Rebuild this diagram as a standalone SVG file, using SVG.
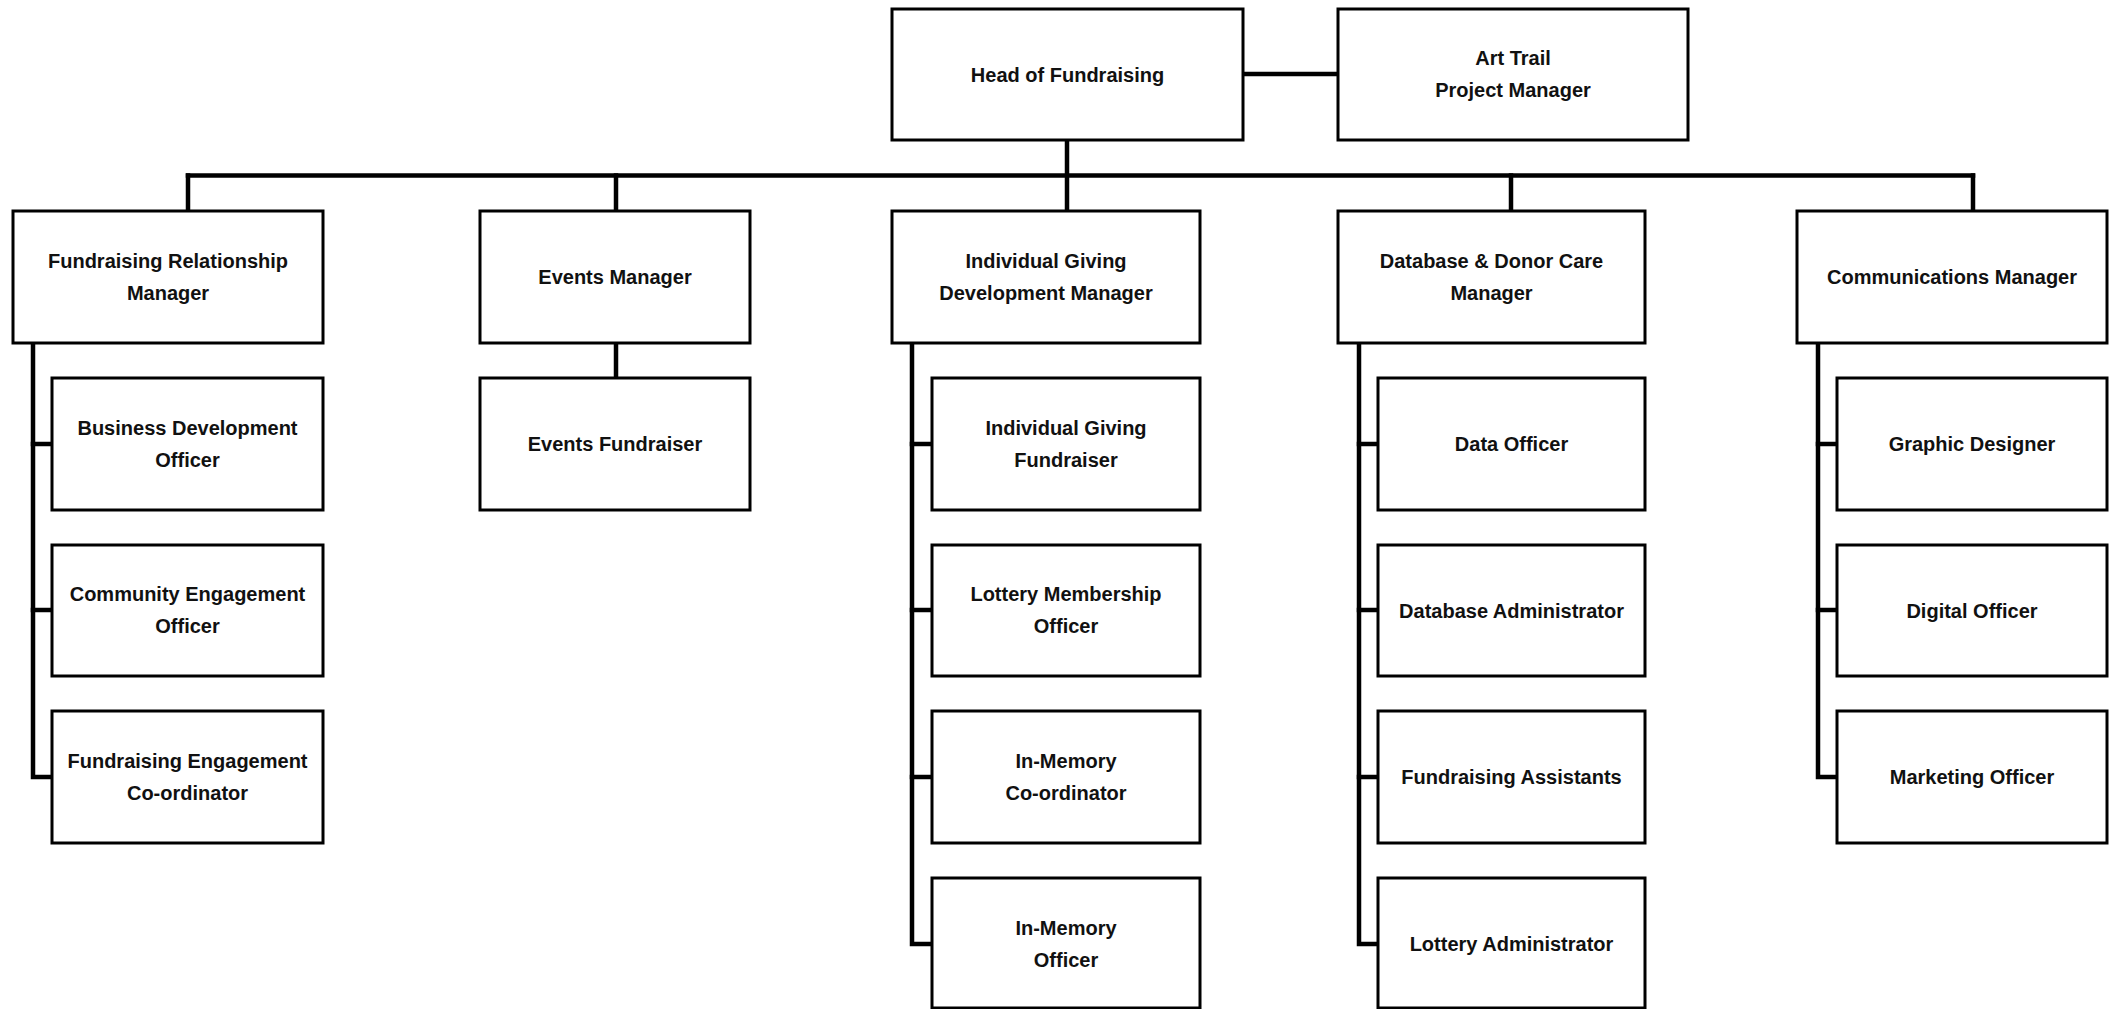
<svg xmlns="http://www.w3.org/2000/svg" width="2116" height="1009" viewBox="0 0 2116 1009">
<style>
  .box rect { fill: #ffffff; stroke: #000000; stroke-width: 3; }
  .box text { font-family: "Liberation Sans", Arial, sans-serif; font-weight: bold; font-size: 20px; fill: #111111; text-anchor: middle; dominant-baseline: central; }
  .conn { stroke: #000000; stroke-width: 4.5; fill: none; stroke-linecap: square; }
</style>
<rect x="0" y="0" width="2116" height="1009" fill="#ffffff"/>
<g id="connectors">
  <path class="conn" d="M1243 74 H1338"/>
  <path class="conn" d="M1067 140 V211"/>
  <path class="conn" d="M188 175.5 H1973"/>
  <path class="conn" d="M188 175.5 V211"/>
  <path class="conn" d="M616 175.5 V211"/>
  <path class="conn" d="M1511 175.5 V211"/>
  <path class="conn" d="M1973 175.5 V211"/>
  <path class="conn" d="M616 343 V378"/>
  <path class="conn" d="M33 343 V777 H52"/>
  <path class="conn" d="M33 444 H52"/>
  <path class="conn" d="M33 610 H52"/>
  <path class="conn" d="M912 343 V944 H932"/>
  <path class="conn" d="M912 444 H932"/>
  <path class="conn" d="M912 610 H932"/>
  <path class="conn" d="M912 777 H932"/>
  <path class="conn" d="M1359 343 V944 H1378"/>
  <path class="conn" d="M1359 444 H1378"/>
  <path class="conn" d="M1359 610 H1378"/>
  <path class="conn" d="M1359 777 H1378"/>
  <path class="conn" d="M1818 343 V777 H1837"/>
  <path class="conn" d="M1818 444 H1837"/>
  <path class="conn" d="M1818 610 H1837"/>
</g>
<g id="head" class="box"><rect x="892" y="9" width="351" height="131"/><text x="1067.5" y="75">Head of Fundraising</text></g>
<g id="arttrail" class="box"><rect x="1338" y="9" width="350" height="131"/><text x="1513" y="58">Art Trail</text><text x="1513" y="90">Project Manager</text></g>

<g id="frm" class="box"><rect x="13" y="211" width="310" height="132"/><text x="168" y="261">Fundraising Relationship</text><text x="168" y="293">Manager</text></g>
<g id="events" class="box"><rect x="480" y="211" width="270" height="132"/><text x="615" y="277">Events Manager</text></g>
<g id="igdm" class="box"><rect x="892" y="211" width="308" height="132"/><text x="1046" y="261">Individual Giving</text><text x="1046" y="293">Development Manager</text></g>
<g id="dbdc" class="box"><rect x="1338" y="211" width="307" height="132"/><text x="1491.5" y="261">Database &amp; Donor Care</text><text x="1491.5" y="293">Manager</text></g>
<g id="comms" class="box"><rect x="1797" y="211" width="310" height="132"/><text x="1952" y="277">Communications Manager</text></g>

<g id="bdo" class="box"><rect x="52" y="378" width="271" height="132"/><text x="187.5" y="428">Business Development</text><text x="187.5" y="460">Officer</text></g>
<g id="ceo" class="box"><rect x="52" y="545" width="271" height="131"/><text x="187.5" y="594">Community Engagement</text><text x="187.5" y="626">Officer</text></g>
<g id="fec" class="box"><rect x="52" y="711" width="271" height="132"/><text x="187.5" y="761">Fundraising Engagement</text><text x="187.5" y="793">Co-ordinator</text></g>

<g id="ef" class="box"><rect x="480" y="378" width="270" height="132"/><text x="615" y="444">Events Fundraiser</text></g>

<g id="igf" class="box"><rect x="932" y="378" width="268" height="132"/><text x="1066" y="428">Individual Giving</text><text x="1066" y="460">Fundraiser</text></g>
<g id="lmo" class="box"><rect x="932" y="545" width="268" height="131"/><text x="1066" y="594">Lottery Membership</text><text x="1066" y="626">Officer</text></g>
<g id="imc" class="box"><rect x="932" y="711" width="268" height="132"/><text x="1066" y="761">In-Memory</text><text x="1066" y="793">Co-ordinator</text></g>
<g id="imo" class="box"><rect x="932" y="878" width="268" height="130"/><text x="1066" y="928">In-Memory</text><text x="1066" y="960">Officer</text></g>

<g id="do" class="box"><rect x="1378" y="378" width="267" height="132"/><text x="1511.5" y="444">Data Officer</text></g>
<g id="dba" class="box"><rect x="1378" y="545" width="267" height="131"/><text x="1511.5" y="611">Database Administrator</text></g>
<g id="fa" class="box"><rect x="1378" y="711" width="267" height="132"/><text x="1511.5" y="777">Fundraising Assistants</text></g>
<g id="la" class="box"><rect x="1378" y="878" width="267" height="130"/><text x="1511.5" y="944">Lottery Administrator</text></g>

<g id="gd" class="box"><rect x="1837" y="378" width="270" height="132"/><text x="1972" y="444">Graphic Designer</text></g>
<g id="dig" class="box"><rect x="1837" y="545" width="270" height="131"/><text x="1972" y="611">Digital Officer</text></g>
<g id="mo" class="box"><rect x="1837" y="711" width="270" height="132"/><text x="1972" y="777">Marketing Officer</text></g>
</svg>
